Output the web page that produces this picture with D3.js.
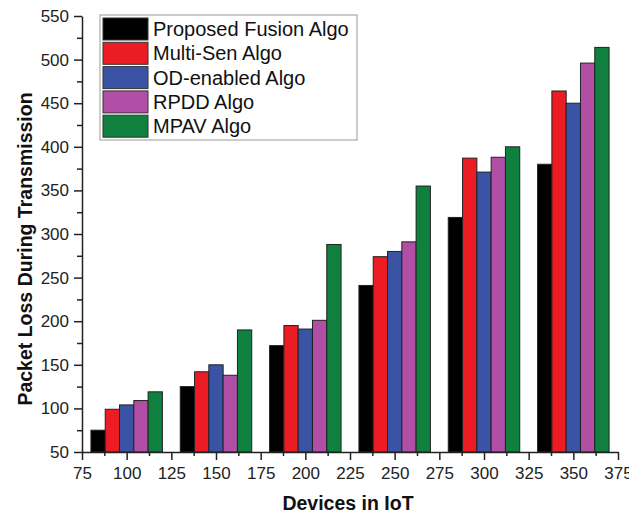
<!DOCTYPE html>
<html>
<head>
<meta charset="utf-8">
<script src="https://cdn.jsdelivr.net/npm/d3@7"></script>
<style>
  body { margin: 0; background: #fff; }
  svg { display: block; font-family: "Liberation Sans", Arial, sans-serif; }
</style>
</head>
<body>
<svg id="chart"></svg>
<script>
const devices = [100, 150, 200, 250, 300, 350];
const seriesNames = ["Proposed Fusion Algo", "Multi-Sen Algo", "OD-enabled Algo", "RPDD Algo", "MPAV Algo"];
const proposedFusion = [75, 125, 172, 241, 319, 380];
const multiSen = [99, 142, 195, 274, 387, 464];
const odEnabled = [104, 150, 191, 280, 371, 450];
const rpdd = [109, 138, 201, 291, 388, 496];
const mpav = [119, 190, 288, 355, 400, 514];
const xTicks = [75, 100, 125, 150, 175, 200, 225, 250, 275, 300, 325, 350, 375];
const yTicks = [50, 100, 150, 200, 250, 300, 350, 400, 450, 500, 550];

const colors = ["#000000", "#ec1c24", "#3a53a5", "#b04fa5", "#10803f"];
const allSeries = [proposedFusion, multiSen, odEnabled, rpdd, mpav];

const width = 629;
const height = 515;
const margin = { top: 16, right: 11, bottom: 63, left: 82 };
const barUnits = 8;

const svg = d3.select("#chart").attr("width", width).attr("height", height);
const chartWidth = width - margin.left - margin.right;
const chartHeight = height - margin.top - margin.bottom;

const root = svg.append("g").attr("transform", `translate(${margin.left},${margin.top})`);

const x = d3.scaleLinear().domain([75, 375]).range([0, chartWidth]);
const y = d3.scaleLinear().domain([50, 550]).range([chartHeight, 0]);

// bars
const barData = [];
allSeries.forEach((vals, si) => {
  vals.forEach((v, i) => {
    barData.push({ s: si, x0: devices[i] - 20 + si * barUnits, value: v });
  });
});

root.selectAll("rect.bar")
  .data(barData)
  .join("rect")
  .attr("class", "bar")
  .attr("x", (d) => x(d.x0))
  .attr("width", x(barUnits) - x(0))
  .attr("y", (d) => y(d.value))
  .attr("height", (d) => chartHeight - y(d.value))
  .attr("fill", (d) => colors[d.s])
  .attr("stroke", "#222")
  .attr("stroke-width", 1);

// minor ticks
const xMinor = d3.range(87.5, 375, 25);
const yMinor = d3.range(75, 550, 50);

root.append("g")
  .attr("transform", `translate(0,${chartHeight})`)
  .call(d3.axisBottom(x).tickValues(xMinor).tickSize(4).tickFormat(""))
  .call((g) => g.select(".domain").remove());

root.append("g")
  .call(d3.axisLeft(y).tickValues(yMinor).tickSize(5).tickFormat(""))
  .call((g) => g.select(".domain").remove());

root.append("g")
  .attr("transform", `translate(0,${chartHeight})`)
  .call(d3.axisBottom(x).tickValues(xTicks).tickSize(8).tickSizeOuter(0).tickPadding(7));

root.append("g")
  .call(d3.axisLeft(y).tickValues(yTicks).tickSize(8).tickSizeOuter(0).tickPadding(5));

root.selectAll(".tick line").attr("stroke", "#222").attr("stroke-width", 1.5);
root.selectAll(".domain").attr("stroke", "#222").attr("stroke-width", 1.5);
root.selectAll(".tick text")
  .attr("font-size", 17)
  .attr("font-family", "Liberation Sans, Arial, sans-serif")
  .attr("fill", "#222");

// axis titles
svg.append("text")
  .attr("x", 348)
  .attr("y", 510)
  .attr("text-anchor", "middle")
  .attr("font-size", 19.5)
  .attr("font-weight", "bold")
  .attr("fill", "#111")
  .text("Devices in IoT");

svg.append("text")
  .attr("transform", `translate(32,${249}) rotate(-90)`)
  .attr("text-anchor", "middle")
  .attr("font-size", 19.5)
  .attr("font-weight", "bold")
  .attr("fill", "#111")
  .text("Packet Loss During Transmission");

// legend
const legend = svg.append("g").attr("transform", "translate(100,15)");
legend.append("rect")
  .attr("width", 257)
  .attr("height", 125)
  .attr("fill", "#fff")
  .attr("stroke", "#999")
  .attr("stroke-width", 1);

const rowH = 24.3;
const items = legend.selectAll("g.item")
  .data(seriesNames)
  .join("g")
  .attr("class", "item")
  .attr("transform", (d, i) => `translate(3,${3 + i * rowH})`);

items.append("rect")
  .attr("width", 45)
  .attr("height", 22)
  .attr("fill", (d, i) => colors[i])
  .attr("stroke", "#333")
  .attr("stroke-width", 1);

items.append("text")
  .attr("x", 50)
  .attr("y", 18)
  .attr("font-size", 20)
  .attr("fill", "#111")
  .text((d) => d);
</script>
</body>
</html>
